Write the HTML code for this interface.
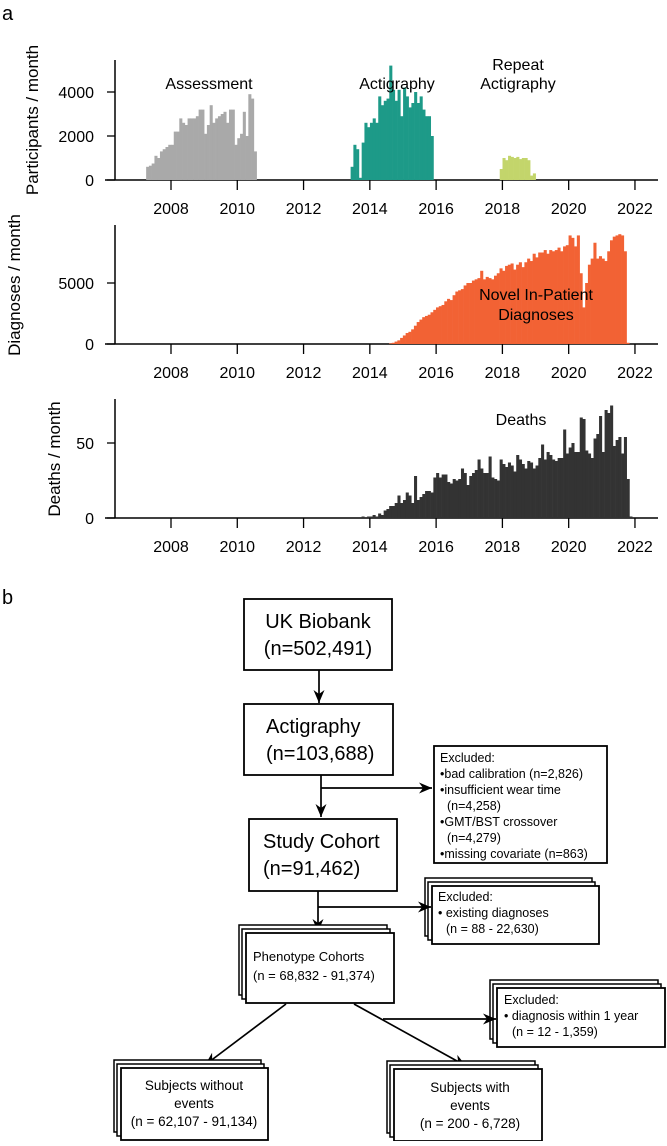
<!DOCTYPE html>
<html><head><meta charset="utf-8">
<style>
html,body{margin:0;padding:0;background:#fff;}
body{width:667px;height:1141px;overflow:hidden;position:relative;font-family:"Liberation Sans",sans-serif;}
svg text{font-family:"Liberation Sans",sans-serif;}
</style></head>
<body>
<svg id="fig" width="667" height="1141" viewBox="0 0 667 1141" xmlns="http://www.w3.org/2000/svg">
<text x="2" y="20" font-size="20">a</text>
<text x="2" y="604" font-size="20">b</text>
<g id="charts"></g>
<g id="flow" font-size="13"></g>
</svg>
<script>
// ---- data ----
const yearTicks = [2008, 2010, 2012, 2014, 2016, 2018, 2020, 2022];
const assessStart = 2007.25;
const assessValues = [600,650,750,1100,1000,1300,1400,1500,1600,1600,2200,2200,2800,2600,2500,2800,2800,2800,2900,3200,3200,2100,2500,3400,2600,2800,2900,3000,3100,2600,3200,3200,1600,1900,2100,3100,2000,3900,3700,1300];
const actiStart = 2013.42;
const actiValues = [600,1600,1400,100,1700,2600,2400,2600,2800,2600,3800,3400,3600,3700,5200,4100,3600,4100,2900,4200,3800,3300,3500,4000,3500,3800,3200,2900,2900,2000];
const repeatStart = 2017.92;
const repeatValues = [500,1000,900,1100,1050,1000,1050,950,1000,1000,900,200,300];
const diagStart = 2014.58;
const diagValues = [50,100,200,300,500,700,900,1000,1200,1500,1800,2000,2200,2300,2400,2600,2800,3000,3100,3200,3500,3700,3600,4000,4300,4400,4500,4800,5000,5000,5200,5300,5400,6000,5300,5500,5400,5300,5600,5800,6200,6000,6400,6500,6600,6100,6500,6700,6300,6700,7000,6800,7400,7100,7500,7500,7700,7400,7700,7600,7700,7900,7600,8000,8100,8900,8700,8000,8900,5800,3000,5000,6500,7000,8300,7000,7200,7000,6800,7600,8500,8800,8900,9000,8900,7600,100];
const deathStart = 2013.75;
const deathValues = [1,0,1,1,2,1,3,2,5,6,8,8,10,15,10,12,17,15,10,28,12,14,16,18,18,17,27,30,27,29,29,24,23,26,25,26,33,30,22,28,30,32,39,33,30,30,41,27,26,25,39,36,34,37,35,31,42,39,36,33,38,37,33,35,40,49,39,44,42,39,38,40,40,59,43,47,50,44,44,67,66,45,43,40,53,56,68,44,72,70,75,48,52,54,43,54,26,1];
const topTicks = [0, 2000, 4000];
const midTicks = [0, 5000];
const botTicks = [0, 50];

const NS = "http://www.w3.org/2000/svg";
const charts = document.getElementById('charts');
function el(tag, attrs, parent, txt){
  const e = document.createElementNS(NS, tag);
  for (const k in attrs) e.setAttribute(k, attrs[k]);
  if (txt !== undefined) e.textContent = txt;
  (parent || charts).appendChild(e);
  return e;
}
const xScale = y => 171 + (y - 2008) * 33.14;
const monthW = 33.14 / 12;

function panel(name, base, topY, unitPx, unit, ticks, title, titleY){
  const g = el('g', {});
  
  
  const yS = v => base - v / unit * unitPx;
  const ya = el('line', {x1:115, x2:115, y1:topY, y2:base, stroke:'#000','stroke-width':1.5}, g);
  
  
  const xa = el('line', {x1:105, x2:658, y1:base, y2:base, stroke:'#000','stroke-width':1.5}, g);
  
  
  ticks.forEach(t => {
    const ty = yS(t);
    el('line', {x1:107, x2:115, y1:ty, y2:ty, stroke:'#000','stroke-width':1.3}, g);
    const lt = el('text', {x:94, y:ty + 6, 'font-size':16, 'text-anchor':'end'}, g, String(t));
    
    
  });
  yearTicks.forEach(yr => {
    const tx = xScale(yr);
    el('line', {x1:tx, x2:tx, y1:base, y2:base + 10, stroke:'#000','stroke-width':1.3}, g);
    const lt = el('text', {x:tx, y:base + 34, 'font-size':16, 'text-anchor':'middle'}, g, String(yr));
    
    
  });
  const yt = el('text', {x:0, y:0, 'font-size':17, 'text-anchor':'middle', transform:`translate(${titleY.x},${titleY.y}) rotate(-90)`}, g, title);
  
  
  return {g, yS};
}
function bars(p, start, values, color, name){
  values.forEach((v, i) => {
    const x = xScale(start + i / 12);
    const y = p.yS(v);
    const r = el('rect', {x:x, y:y, width:monthW + 0.3, height:Math.max(0, p.yS(0) - y), fill:color}, p.g);
    
    
  });
}
function label(p, x, y, txt){
  const t = el('text', {x:x, y:y, 'font-size':16, 'text-anchor':'middle'}, p.g, txt);
  
  
}

const p1 = panel('participants-chart', 180, 60, 44, 2000, topTicks, 'Participants / month', {x:38, y:120});
bars(p1, assessStart, assessValues, '#a9a9a9', 'bar-assessment');
bars(p1, actiStart, actiValues, '#1d9a88', 'bar-actigraphy');
bars(p1, repeatStart, repeatValues, '#c3d56b', 'bar-repeat-actigraphy');
label(p1, 209, 89, 'Assessment');
label(p1, 397, 89, 'Actigraphy');
label(p1, 518, 70, 'Repeat');
label(p1, 518, 89, 'Actigraphy');

const p2 = panel('diagnoses-chart', 344, 225, 61, 5000, midTicks, 'Diagnoses / month', {x:20, y:285});
bars(p2, diagStart, diagValues, '#f26234', 'bar-diagnoses');
label(p2, 536, 300, 'Novel In-Patient');
label(p2, 536, 320, 'Diagnoses');

const p3 = panel('deaths-chart', 518, 399, 75, 50, botTicks, 'Deaths / month', {x:60, y:459});
bars(p3, deathStart, deathValues, '#333333', 'bar-deaths');
label(p3, 521, 425, 'Deaths');

// ---- flowchart ----
const flow = document.getElementById('flow');
function box(name, x, y, w, h, stacked){
  const g = el('g', {}, flow);
  
  
  if (stacked){
    [[-7,-8],[-4,-4]].forEach(o => {
      el('rect', {x:x+o[0], y:y+o[1], width:w, height:h, fill:'#fff', stroke:'#000','stroke-width':1.5}, g);
    });
  }
  el('rect', {x:x, y:y, width:w, height:h, fill:'#fff', stroke:'#000','stroke-width':1.8}, g);
  return g;
}
function txt(g, x, y, s, size, anchor){
  const t = el('text', {x:x, y:y, 'font-size':size, 'text-anchor':anchor || 'start'}, g, s);
  
  
}
function arrow(name, x1, y1, x2, y2){
  const g = el('g', {}, flow);
  
  
  el('line', {x1, y1, x2, y2, stroke:'#000', 'stroke-width':1.7}, g);
  const a = Math.atan2(y2 - y1, x2 - x1), L = 13, W = 5.5;
  const bx = x2 - L*Math.cos(a), by = y2 - L*Math.sin(a);
  const pts = [[x2,y2],[bx - W*Math.sin(a), by + W*Math.cos(a)],[bx + 4*Math.cos(a), by + 4*Math.sin(a)],[bx + W*Math.sin(a), by - W*Math.cos(a)]];
  el('polygon', {points: pts.map(p => p.join(',')).join(' '), fill:'#000'}, g);
}

let g = box('uk-biobank-box', 244, 599, 148, 71);
txt(g, 318, 628, 'UK Biobank', 20, 'middle'); txt(g, 318, 655, '(n=502,491)', 20, 'middle');
arrow('arrow-biobank-actigraphy', 319, 670, 319, 703);
g = box('actigraphy-box', 244, 704, 149, 71);
txt(g, 266, 733, 'Actigraphy', 20); txt(g, 266, 760, '(n=103,688)', 20);
g = box('excluded-qc-box', 434, 746, 173, 117);
txt(g, 440, 762, 'Excluded:', 12.5);
txt(g, 440, 778, '•bad calibration (n=2,826)', 12.5);
txt(g, 440, 794, '•insufficient wear time', 12.5);
txt(g, 447, 810, '(n=4,258)', 12.5);
txt(g, 440, 826, '•GMT/BST crossover', 12.5);
txt(g, 447, 842, '(n=4,279)', 12.5);
txt(g, 440, 858, '•missing covariate  (n=863)', 12.5);
arrow('arrow-actigraphy-study', 321, 775, 321, 817);
arrow('arrow-to-excluded-qc', 321, 788, 432, 788);
g = box('study-cohort-box', 249, 819, 148, 72);
txt(g, 263, 848, 'Study Cohort', 20); txt(g, 263, 875, '(n=91,462)', 20);
g = box('excluded-diagnoses-box', 432, 886, 167, 58, true);
txt(g, 438, 901, 'Excluded:', 12.5);
txt(g, 438, 917, '• existing diagnoses', 12.5);
txt(g, 446, 933, '(n = 88 - 22,630)', 12.5);
arrow('arrow-study-phenotype', 318, 891, 318, 932);
arrow('arrow-to-excluded-diagnoses', 318, 907, 431, 907);
g = box('phenotype-cohorts-box', 246, 933, 148, 70, true);
txt(g, 253, 961, 'Phenotype Cohorts', 13); txt(g, 253, 980, '(n = 68,832 - 91,374)', 13);
g = box('excluded-within-year-box', 497, 988, 168, 59, true);
txt(g, 504, 1004, 'Excluded:', 12.5);
txt(g, 504, 1020, '• diagnosis within 1 year', 12.5);
txt(g, 512, 1036, '(n = 12 - 1,359)', 12.5);
arrow('arrow-to-no-events', 286, 1004, 205, 1065);
arrow('arrow-to-events', 354, 1004, 466, 1066);
arrow('arrow-to-excluded-within-year', 383, 1019, 496, 1019);
g = box('subjects-without-events-box', 121, 1068, 147, 72, true);
txt(g, 194, 1090, 'Subjects without', 13.5, 'middle'); txt(g, 194, 1108, 'events', 13.5, 'middle'); txt(g, 194, 1126, '(n = 62,107 - 91,134)', 13.5, 'middle');
g = box('subjects-with-events-box', 394, 1069, 148, 72, true);
txt(g, 470, 1092, 'Subjects with', 13.5, 'middle'); txt(g, 470, 1110, 'events', 13.5, 'middle'); txt(g, 470, 1128, '(n = 200 - 6,728)', 13.5, 'middle');
</script>
</body></html>
